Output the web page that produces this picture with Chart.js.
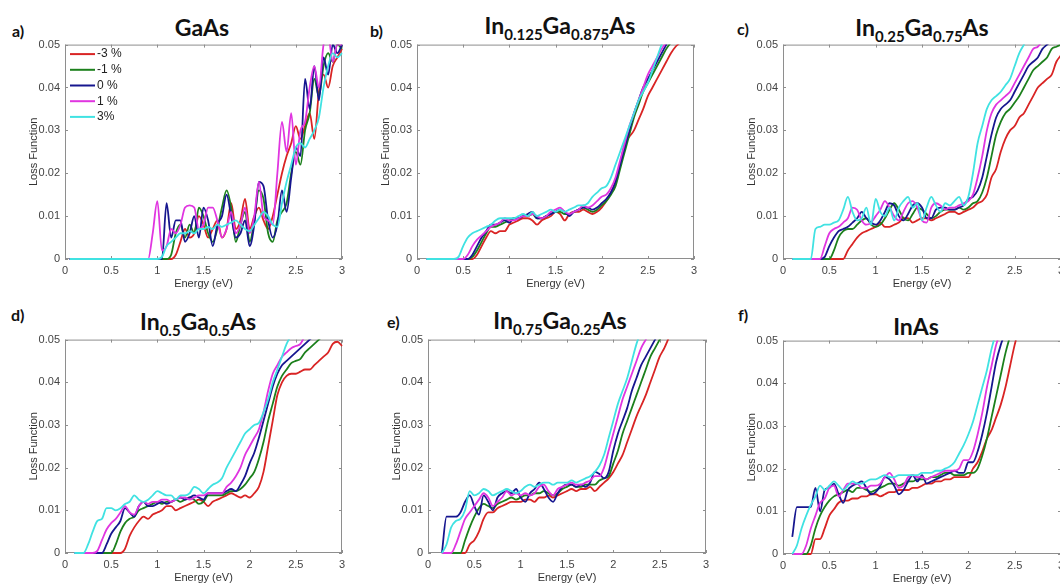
<!DOCTYPE html>
<html>
<head>
<meta charset="utf-8">
<title>Loss function vs energy</title>
<script src="https://cdn.jsdelivr.net/npm/chart.js@4.4.1/dist/chart.umd.min.js"></script>
<style>
  html, body { margin: 0; padding: 0; background: #fff; }
  body { position: relative; width: 1060px; height: 588px; overflow: hidden; }
  canvas { position: absolute; }
  .tag { position: absolute; font: bold 16px Lato, "Open Sans", sans-serif; color: #111; line-height: 16px; }
  .ttl { position: absolute; font: bold 23px Lato, "Open Sans", sans-serif; color: #111;
         line-height: 23px; white-space: nowrap; transform: translate(-50%, -50%); }
  .ttl sub { font-size: 15px; line-height: 0; vertical-align: -6px; }
</style>
</head>
<body>

<div class="tag" style="left:12px;top:23px">a)</div>
<div class="ttl" style="left:202px;top:27px">GaAs</div>
<div class="tag" style="left:370px;top:23px">b)</div>
<div class="ttl" style="left:560px;top:25px">In<sub>0.125</sub>Ga<sub>0.875</sub>As</div>
<div class="tag" style="left:737px;top:21px">c)</div>
<div class="ttl" style="left:922px;top:27px">In<sub>0.25</sub>Ga<sub>0.75</sub>As</div>
<div class="tag" style="left:11px;top:307px">d)</div>
<div class="ttl" style="left:198px;top:321px">In<sub>0.5</sub>Ga<sub>0.5</sub>As</div>
<div class="tag" style="left:387px;top:314px">e)</div>
<div class="ttl" style="left:560px;top:320px">In<sub>0.75</sub>Ga<sub>0.25</sub>As</div>
<div class="tag" style="left:738px;top:307px">f)</div>
<div class="ttl" style="left:916px;top:326px">InAs</div>

<canvas id="pa"></canvas>
<canvas id="pb"></canvas>
<canvas id="pc"></canvas>
<canvas id="pd"></canvas>
<canvas id="pe"></canvas>
<canvas id="pf"></canvas>

<script>
// energy grid (eV) shared by every curve
const energy = [
  0.05, 0.1, 0.15, 0.2, 0.25, 0.3, 0.35, 0.4, 0.45, 0.5,
  0.55, 0.6, 0.65, 0.7, 0.75, 0.8, 0.85, 0.9, 0.95, 1,
  1.05, 1.1, 1.15, 1.2, 1.25, 1.3, 1.35, 1.4, 1.45, 1.5,
  1.55, 1.6, 1.65, 1.7, 1.75, 1.8, 1.85, 1.9, 1.95, 2,
  2.05, 2.1, 2.15, 2.2, 2.25, 2.3, 2.35, 2.4, 2.45, 2.5,
  2.55, 2.6, 2.65, 2.7, 2.75, 2.8, 2.85, 2.9, 2.95, 3
];

const strainLabels = ['-3 %', '-1 %', '0 %', '1 %', '3%'];
const strainColors = ['#d92424', '#1c801c', '#16168f', '#e035e0', '#40e2e2'];

const xTicks = [0, 0.5, 1, 1.5, 2, 2.5, 3];
const xTickLabels = ['0', '0.5', '1', '1.5', '2', '2.5', '3'];
const yTicks = [0, 0.01, 0.02, 0.03, 0.04, 0.05];
const yTickLabels = ['0', '0.01', '0.02', '0.03', '0.04', '0.05'];

// a) GaAs
const gaas_m3 = [
  0, 0, 0, 0, 0, 0, 0, 0, 0, 0,
  0, 0, 0, 0, 0, 0, 0, 0, 0, 0,
  0, 0, 0, .001, .004, .007, .005, .006, .010, .008,
  .005, .007, .009, .005, .007, .013, .007, .009, .014, .007,
  .010, .012, .009, .007, .010, .015, .020, .024, .027, .031,
  .028, .031, .034, .028, .039, .043, .040, .045, .047, .049
];
const gaas_m1 = [
  0, 0, 0, 0, 0, 0, 0, 0, 0, 0,
  0, 0, 0, 0, 0, 0, 0, 0, 0, 0,
  0, 0, .001, .006, .008, .005, .008, .006, .012, .010,
  .006, .004, .007, .012, .016, .012, .004, .008, .011, .004,
  .009, .016, .014, .006, .004, .009, .011, .013, .020, .025,
  .022, .030, .034, .042, .038, .045, .048, .046, .050, .049
];
const gaas_0 = [
  0, 0, 0, 0, 0, 0, 0, 0, 0, 0,
  0, 0, 0, 0, 0, 0, 0, 0, 0, 0,
  0, .013, .005, .009, .009, .004, .006, .010, .005, .012,
  .009, .003, .008, .010, .015, .010, .005, .006, .009, .003,
  .008, .018, .017, .009, .005, .008, .016, .011, .019, .026,
  .024, .042, .035, .045, .037, .047, .043, .050, .048, .050
];
const gaas_p1 = [
  0, 0, 0, 0, 0, 0, 0, 0, 0, 0,
  0, 0, 0, 0, 0, 0, 0, 0, .006, .0135,
  .002, .003, .007, .006, .008, .012, .0125, .012, .007, .008,
  .012, .012, .009, .005, .007, .011, .006, .008, .012, .006,
  .010, .018, .010, .009, .008, .020, .032, .025, .034, .022,
  .030, .032, .040, .045, .040, .050, .052, .046, .050, .050
];
const gaas_p3 = [
  0, 0, 0, 0, 0, 0, 0, 0, 0, 0,
  0, 0, 0, 0, 0, 0, 0, 0, 0, 0,
  .0005, .003, .004, .005, .006, .006, .0065, .006, .007, .007,
  .0075, .007, .008, .0075, .008, .0085, .009, .008, .007, .0065,
  .008, .0095, .011, .010, .008, .0075, .013, .018, .022, .026,
  .027, .026, .028, .030, .033, .040, .045, .048, .047, .048
];

// b) In0.125Ga0.875As
const in125_m3 = [
  null, 0, 0, 0, 0, 0, 0, 0, 0, 0,
  0, 0, .001, .003, .005, .0065, .006, .0065, .0065, .008,
  .0085, .009, .0095, .0095, .009, .008, .009, .0095, .010, .011,
  .0105, .009, .0105, .011, .011, .0115, .011, .0105, .011, .012,
  .0135, .0155, .018, .022, .027, .0285, .030, .0325, .035, .038,
  .040, .042, .044, .046, .048, .0495, .0505, .052
];
const in125_m1 = [
  null, 0, 0, 0, 0, 0, 0, 0, 0, 0,
  0, .0005, .002, .004, .006, .0075, .0075, .008, .0085, .009,
  .0095, .0095, .010, .010, .0105, .0095, .0095, .010, .0105, .011,
  .011, .0105, .0105, .011, .0115, .012, .0115, .011, .0115, .0125,
  .0135, .015, .017, .021, .025, .029, .033, .036, .039, .041,
  .043, .045, .047, .049, .0505, .052
];
const in125_0 = [
  null, 0, 0, 0, 0, 0, 0, 0, 0, 0,
  0, .001, .003, .005, .0065, .008, .008, .0085, .009, .0085,
  .0095, .0095, .010, .0105, .011, .0095, .0095, .010, .0105, .011,
  .0115, .011, .010, .011, .0115, .012, .012, .0115, .012, .013,
  .014, .0155, .018, .022, .026, .030, .034, .037, .040, .042,
  .044, .046, .048, .050, .052
];
const in125_p1 = [
  null, 0, 0, 0, 0, 0, 0, 0, 0, 0,
  .001, .003, .0045, .0055, .0065, .0075, .008, .0085, .0095, .009,
  .009, .0095, .010, .010, .0105, .010, .0095, .010, .011, .0115,
  .012, .011, .0105, .011, .0115, .0125, .012, .0125, .0135, .0145,
  .015, .0165, .019, .023, .027, .031, .034, .037, .040, .043,
  .045, .047, .049, .0505, .052
];
const in125_p3 = [
  null, 0, 0, 0, 0, 0, 0, 0, .0005, .003,
  .005, .006, .0065, .007, .0075, .008, .009, .0095, .0095, .0095,
  .0095, .010, .0105, .010, .011, .010, .0105, .011, .0115, .011,
  .0115, .011, .0115, .012, .0125, .0125, .013, .0145, .0155, .0165,
  .017, .019, .022, .025, .028, .031, .034, .037, .039, .041,
  .044, .047, .050, .052
];

// c) In0.25Ga0.75As
const in25_m3 = [
  null, 0, 0, 0, 0, 0, 0, 0, 0, 0,
  0, 0, 0, .002, .0035, .005, .006, .0065, .007, .0075,
  .0085, .0075, .0075, .008, .0085, .0095, .0095, .0085, .009, .0095,
  .0095, .009, .0095, .010, .0105, .011, .011, .0105, .011, .0115,
  .012, .013, .0135, .015, .019, .021, .025, .028, .030, .031,
  .033, .034, .036, .038, .040, .041, .042, .043, .046, .0475
];
const in25_m1 = [
  null, 0, 0, 0, 0, 0, 0, 0, 0, 0,
  .002, .005, .0065, .007, .007, .008, .009, .0095, .008, .0075,
  .008, .0095, .0115, .013, .0115, .0095, .009, .0105, .012, .0115,
  .0105, .0095, .010, .011, .0115, .0115, .0115, .012, .0115, .012,
  .013, .0135, .0155, .019, .024, .029, .032, .034, .035, .0365,
  .038, .040, .042, .044, .045, .046, .047, .049, .0495, .050
];
const in25_0 = [
  null, 0, 0, 0, 0, 0, 0, 0, .0005, .003,
  .005, .0065, .007, .0075, .0085, .0095, .011, .0095, .0085, .008,
  .009, .011, .013, .0125, .010, .009, .0105, .0125, .013, .012,
  .0095, .0095, .0115, .012, .012, .0115, .0115, .012, .0125, .014,
  .0145, .016, .019, .024, .029, .033, .035, .036, .037, .039,
  .041, .043, .045, .046, .047, .049, .050, .051
];
const in25_p1 = [
  null, 0, 0, 0, 0, 0, 0, 0, .003, .006,
  .007, .0075, .0085, .0095, .012, .0115, .009, .008, .0085, .010,
  .0115, .0135, .012, .010, .009, .011, .013, .0135, .012, .009,
  .0085, .012, .013, .0125, .0115, .012, .012, .0125, .013, .0135,
  .015, .019, .024, .030, .034, .036, .037, .038, .039, .041,
  .043, .045, .047, .049, .0495, .051
];
const in25_p3 = [
  null, 0, 0, 0, 0, 0, .007, .0075, .008, .008,
  .0085, .009, .0115, .0145, .011, .009, .0095, .012, .008, .014,
  .011, .010, .012, .009, .012, .0135, .0145, .012, .013, .009,
  .012, .0145, .0125, .011, .013, .0125, .0135, .0145, .0125, .0145,
  .020, .027, .031, .035, .037, .038, .039, .0405, .042, .045,
  .048, .050, .052
];

// d) In0.5Ga0.5As
const in50_m3 = [
  null, 0, 0, 0, 0, 0, 0, 0, 0, 0,
  0, 0, .001, .004, .006, .0075, .0085, .008, .009, .0095,
  .010, .011, .011, .010, .0105, .011, .0115, .012, .0125, .012,
  .011, .012, .0125, .013, .0135, .014, .0135, .013, .0135, .013,
  .014, .0155, .019, .025, .031, .037, .040, .0415, .042, .042,
  .0425, .043, .043, .044, .045, .046, .047, .049, .0495, .0485
];
const in50_m1 = [
  null, 0, 0, 0, 0, 0, 0, 0, 0, 0,
  .002, .005, .007, .008, .0085, .010, .0105, .011, .0115, .012,
  .0115, .012, .012, .0125, .012, .0125, .013, .0125, .0115, .012,
  .0135, .0135, .0135, .0135, .014, .0145, .0145, .015, .016, .0175,
  .019, .022, .026, .031, .035, .039, .0415, .043, .0445, .045,
  .0455, .047, .048, .049, .050, .051
];
const in50_0 = [
  null, 0, 0, 0, 0, 0, 0, 0, .002, .0045,
  .006, .0075, .0105, .0095, .0085, .011, .012, .011, .011, .0115,
  .012, .0115, .012, .0125, .013, .0125, .013, .0135, .013, .0125,
  .014, .014, .014, .014, .0145, .015, .0145, .016, .018, .021,
  .0235, .027, .031, .035, .039, .042, .044, .045, .046, .047,
  .048, .049, .050, .051
];
const in50_p1 = [
  null, 0, 0, 0, 0, 0, .0005, .003, .0055, .007,
  .008, .0095, .011, .0095, .009, .011, .012, .0115, .012, .012,
  .0125, .0125, .012, .0125, .013, .013, .0125, .013, .0135, .0135,
  .014, .014, .014, .014, .0155, .0165, .018, .020, .023, .025,
  .027, .029, .033, .038, .042, .044, .046, .047, .048, .0485,
  .049, .051
];
const in50_p3 = [
  null, 0, 0, 0, .002, .005, .0075, .008, .0105, .0105,
  .010, .0105, .0115, .012, .0135, .0125, .012, .0125, .0135, .0145,
  .014, .0135, .0135, .0125, .0135, .0135, .014, .0155, .015, .014,
  .015, .016, .0165, .0175, .020, .022, .024, .026, .028, .029,
  .030, .0305, .033, .036, .040, .043, .046, .049, .051
];

// e) In0.75Ga0.25As
const in75_m3 = [
  null, null, 0, 0, 0, 0, 0, 0, .002, .003,
  .005, .008, .0095, .0095, .0105, .011, .0115, .012, .012, .012,
  .0125, .0125, .012, .013, .013, .0135, .013, .0135, .014, .0145,
  .015, .0145, .015, .015, .0155, .0145, .0155, .0165, .0175, .019,
  .021, .023, .026, .029, .032, .0345, .037, .040, .043, .046,
  .048, .0505, .053
];
const in75_m1 = [
  null, null, 0, 0, 0, 0, 0, .003, .006, .0085,
  .0105, .0115, .011, .0105, .0115, .012, .0125, .013, .0125, .013,
  .0135, .0135, .014, .014, .0145, .014, .0135, .014, .015, .0155,
  .016, .0155, .0155, .016, .016, .016, .017, .0175, .018, .021,
  .024, .028, .031, .034, .037, .040, .043, .046, .048, .050,
  .052
];
const in75_0 = [
  null, null, 0, .0085, .0085, .0085, .0095, .012, .0135, .011,
  .009, .0135, .012, .010, .013, .014, .0145, .014, .015, .013,
  .012, .014, .015, .0165, .015, .013, .012, .014, .0155, .016,
  .016, .0155, .016, .0155, .0165, .019, .0185, .0175, .019, .024,
  .028, .031, .034, .038, .041, .044, .046, .048, .050, .052
];
const in75_p1 = [
  null, null, 0, 0, 0, .002, .005, .008, .0095, .011,
  .0125, .014, .013, .011, .012, .013, .0145, .0135, .014, .0135,
  .014, .0135, .014, .0155, .016, .0145, .0135, .015, .0155, .016,
  .0165, .016, .016, .0165, .017, .018, .018, .020, .024, .028,
  .032, .036, .039, .042, .045, .048, .050, .052
];
const in75_p3 = [
  null, null, 0, .002, .006, .0075, .008, .010, .0145, .0135,
  .014, .015, .0145, .0135, .014, .0145, .015, .0145, .014, .0145,
  .0155, .016, .0155, .016, .0165, .0165, .016, .0165, .0165, .0165,
  .017, .0165, .017, .0175, .018, .019, .0205, .023, .027, .031,
  .035, .038, .041, .045, .049, .052
];

// f) InAs
const inas_m3 = [
  null, 0, 0, 0, 0, 0, .0035, .0035, .006, .009,
  .0105, .012, .0125, .0125, .013, .013, .0135, .0135, .014, .014,
  .0135, .014, .0145, .0145, .015, .015, .015, .0155, .0155, .016,
  .0165, .0165, .017, .017, .0175, .0175, .018, .018, .018, .018,
  .020, .0215, .024, .027, .029, .032, .035, .039, .044, .049,
  .053
];
const inas_m1 = [
  null, 0, 0, 0, 0, .002, .006, .009, .011, .0125,
  .0135, .014, .0145, .015, .0145, .0155, .0155, .015, .0145, .015,
  .0155, .016, .0165, .0165, .016, .0165, .017, .017, .0175, .0175,
  .0175, .018, .018, .0185, .019, .019, .0185, .0185, .0185, .019,
  .019, .020, .023, .027, .032, .037, .042, .047, .051
];
const inas_0 = [
  null, .004, .011, .011, .011, .011, .0155, .010, .015, .0155,
  .0165, .014, .012, .015, .016, .0165, .017, .0155, .014, .0145,
  .016, .018, .0175, .016, .014, .015, .017, .0185, .017, .0185,
  .0165, .017, .0175, .018, .0185, .019, .0195, .019, .019, .0215,
  .0215, .024, .028, .033, .039, .045, .049, .052
];
const inas_p1 = [
  null, 0, 0, 0, .002, .006, .009, .012, .013, .0155,
  .016, .0135, .015, .0165, .0165, .0165, .0155, .0155, .016, .016,
  .0165, .018, .019, .0175, .0155, .016, .018, .0185, .018, .018,
  .0175, .018, .0185, .019, .0195, .0195, .0195, .020, .022, .022,
  .024, .028, .033, .039, .044, .049, .052
];
const inas_p3 = [
  null, 0, .002, .006, .009, .0115, .0135, .016, .015, .016,
  .017, .016, .015, .016, .017, .0165, .0165, .017, .0175, .0175,
  .018, .0185, .018, .018, .0185, .0185, .0185, .0185, .0185, .019,
  .019, .019, .0195, .0195, .020, .0205, .0215, .0235, .0255, .028,
  .031, .035, .039, .043, .048, .052
];

// plot box of each panel on the page: left, top, width, height
const panels = [
  { id: 'pa', series: [gaas_m3, gaas_m1, gaas_0, gaas_p1, gaas_p3], box: [65, 43, 277, 216], legend: true },
  { id: 'pb', series: [in125_m3, in125_m1, in125_0, in125_p1, in125_p3], box: [417, 43, 277, 216] },
  { id: 'pc', series: [in25_m3, in25_m1, in25_0, in25_p1, in25_p3], box: [783, 43, 278, 216] },
  { id: 'pd', series: [in50_m3, in50_m1, in50_0, in50_p1, in50_p3], box: [65, 338, 277, 215] },
  { id: 'pe', series: [in75_m3, in75_m1, in75_0, in75_p1, in75_p3], box: [428, 338, 278, 215] },
  { id: 'pf', series: [inas_m3, inas_m1, inas_0, inas_p1, inas_p3], box: [783, 339, 278, 215] }
];

const AXIS_W = 65, AXIS_H = 36, PAD_T = 10, PAD_R = 12;
const axisFont = { family: '"Liberation Sans", Arial, sans-serif', size: 11 };

// MATLAB style frame: grey box with inward tick marks on all four sides,
// drawn under the curves so the zero-level lines stay visible
const frame = {
  id: 'frame',
  beforeDatasetsDraw(chart) {
    const { ctx, chartArea: a, scales: { x, y } } = chart;
    ctx.save();
    ctx.strokeStyle = '#8e8e8e';
    ctx.lineWidth = 1;
    ctx.strokeRect(a.left + 0.5, a.top + 0.5, a.width - 1, a.height - 1);
    ctx.beginPath();
    xTicks.forEach(v => {
      const px = Math.round(x.getPixelForValue(v)) + 0.5;
      ctx.moveTo(px, a.bottom); ctx.lineTo(px, a.bottom - 3);
      ctx.moveTo(px, a.top); ctx.lineTo(px, a.top + 3);
    });
    yTicks.forEach(v => {
      const py = Math.round(y.getPixelForValue(v)) + 0.5;
      ctx.moveTo(a.left, py); ctx.lineTo(a.left + 3, py);
      ctx.moveTo(a.right, py); ctx.lineTo(a.right - 3, py);
    });
    ctx.stroke();
    ctx.restore();
  }
};

// legend sitting in the top-left corner of the plot
const cornerLegend = {
  id: 'cornerLegend',
  afterDraw(chart, args, opts) {
    if (!opts.show) return;
    const { ctx, chartArea: a } = chart;
    ctx.save();
    ctx.font = '12px "Liberation Sans", Arial, sans-serif';
    ctx.textBaseline = 'middle';
    chart.data.datasets.forEach((ds, i) => {
      const ly = a.top + 9.5 + i * 15.7;
      ctx.strokeStyle = ds.borderColor;
      ctx.lineWidth = 2;
      ctx.beginPath();
      ctx.moveTo(a.left + 5, ly);
      ctx.lineTo(a.left + 30, ly);
      ctx.stroke();
      ctx.fillStyle = '#222';
      ctx.fillText(ds.label, a.left + 32, ly);
    });
    ctx.restore();
  }
};

panels.forEach(p => {
  const [left, top, w, h] = p.box;
  const cv = document.getElementById(p.id);
  cv.width = AXIS_W + w + PAD_R;
  cv.height = PAD_T + h + AXIS_H;
  cv.style.left = (left - AXIS_W) + 'px';
  cv.style.top = (top - PAD_T) + 'px';

  new Chart(cv, {
    type: 'line',
    data: {
      datasets: p.series.map((s, i) => ({
        label: strainLabels[i],
        data: s.map((v, j) => ({ x: energy[j], y: v })),
        borderColor: strainColors[i],
        borderWidth: 1.8,
        pointRadius: 0,
        cubicInterpolationMode: 'monotone',
        spanGaps: false,
        clip: { left: 2, right: 2, top: 0, bottom: 3 },
        order: 4 - i
      }))
    },
    options: {
      responsive: false,
      animation: false,
      events: [],
      layout: { padding: { left: 0, top: PAD_T, right: PAD_R, bottom: 0 } },
      plugins: {
        legend: { display: false },
        tooltip: { enabled: false },
        cornerLegend: { show: !!p.legend }
      },
      scales: {
        x: {
          type: 'linear', min: 0, max: 3,
          afterBuildTicks: s => { s.ticks = xTicks.map(v => ({ value: v })); },
          afterFit: s => { s.height = AXIS_H; },
          grid: { display: false, drawTicks: false },
          border: { display: false },
          ticks: { padding: 5, autoSkip: false, maxRotation: 0, color: '#444', font: axisFont,
                   callback: (v, i) => xTickLabels[i] },
          title: { display: true, text: 'Energy (eV)', color: '#333', font: axisFont,
                   padding: { top: 0, bottom: 4 } }
        },
        y: {
          type: 'linear', min: 0, max: 0.05,
          afterBuildTicks: s => { s.ticks = yTicks.map(v => ({ value: v })); },
          afterFit: s => { s.width = AXIS_W; },
          grid: { display: false, drawTicks: false },
          border: { display: false },
          ticks: { padding: 5, autoSkip: false, color: '#444', font: axisFont,
                   callback: (v, i) => yTickLabels[i] },
          title: { display: true, text: 'Loss Function', color: '#333', font: axisFont,
                   padding: { top: 27, bottom: 0 } }
        }
      }
    },
    plugins: [frame, cornerLegend]
  });
});
</script>
</body>
</html>
